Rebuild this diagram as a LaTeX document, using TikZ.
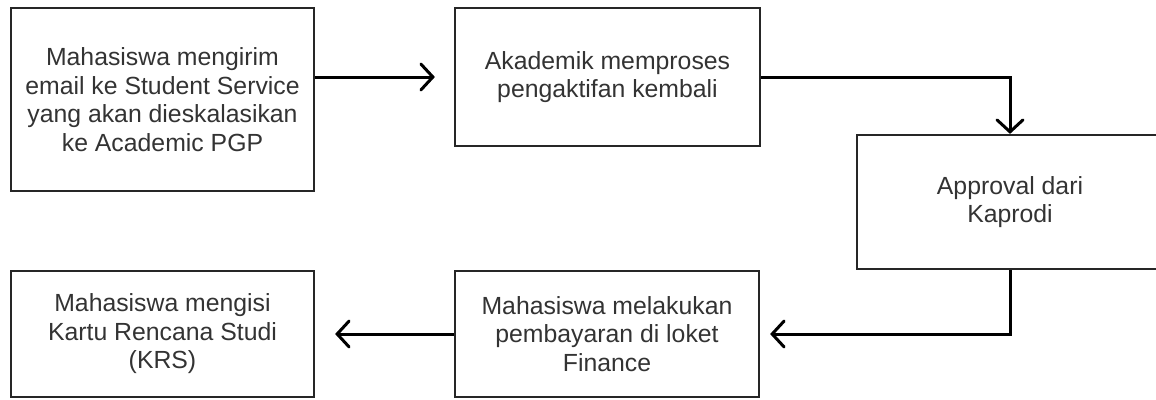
\documentclass[tikz,border=0pt]{standalone}
\usepackage{fontspec}
\setmainfont{Liberation Sans}
\usetikzlibrary{arrows.meta}

\begin{document}
\begin{tikzpicture}[
  x=1pt, y=-1pt,
  every node/.style={font=\fontsize{24.8}{28.5}\selectfont, text=black!80},
  box/.style={draw=black!85, line width=2.2pt, inner sep=0pt, align=center},
  flow/.style={draw=black, line width=3pt,
    -{Straight Barb[length=12pt, width=26pt, line cap=round]}}
]

%% ── frame ────────────────────────────────────────────────────────────────────
\useasboundingbox (0,0) rectangle (1156,399);

%% ── process boxes ────────────────────────────────────────────────────────────
\node[box, minimum width=303pt, minimum height=183pt] (mailbox) at (162.5,99.5)
  {Mahasiswa mengirim\\email ke Student Service\\yang akan dieskalasikan\\ke Academic PGP};
\node[box, minimum width=305pt, minimum height=138pt] (prosesbox) at (607.5,77)
  {Akademik memproses\\pengaktifan kembali};
\node[box, minimum width=306pt, minimum height=134pt] (approvalbox) at (1010,202)
  {Approval dari\\Kaprodi};
\node[box, minimum width=304pt, minimum height=126pt] (bayarbox) at (607,334)
  {Mahasiswa melakukan\\pembayaran di loket\\Finance};
\node[box, minimum width=303pt, minimum height=126pt] (krsbox) at (162.5,334)
  {Mahasiswa mengisi\\Kartu Rencana Studi\\(KRS)};

%% ── connectors ───────────────────────────────────────────────────────────────
\draw[flow, shorten >=19pt] (mailbox.east |- prosesbox.west) -- (prosesbox.west);
\draw[flow] (prosesbox.east) -| (approvalbox.north);
\draw[flow, shorten >=10pt] (approvalbox.south) |- (bayarbox.east);
\draw[flow, shorten >=20pt] (bayarbox.west) -- (krsbox.east);

\end{tikzpicture}
\end{document}
